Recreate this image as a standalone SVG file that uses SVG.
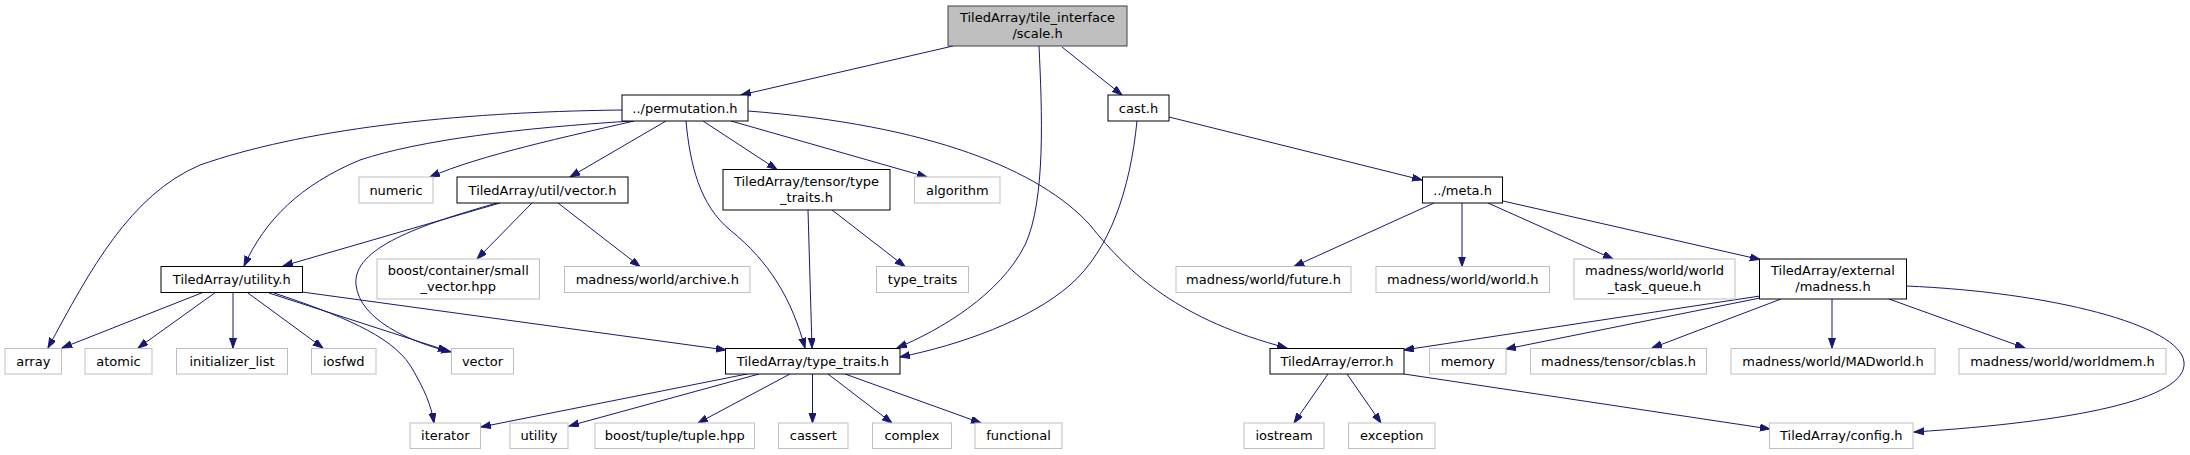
<svg xmlns="http://www.w3.org/2000/svg" width="2190" height="455" viewBox="0 0 2190 455">
<style>
text{font-family:"DejaVu Sans",sans-serif;font-size:13px;fill:#000;text-anchor:middle}
.n rect{fill:#fff;stroke:#000;stroke-width:1}
.g rect{fill:#fff;stroke:#bfbfbf;stroke-width:1}
.r rect{fill:#bfbfbf;stroke:#404040;stroke-width:1}
#edges path{fill:none;stroke:#191970;stroke-width:1;marker-end:url(#ah)}
</style>
<defs>
<marker id="ah" markerUnits="userSpaceOnUse" markerWidth="11" markerHeight="8" refX="10" refY="3.5" orient="auto">
<path d="M0,0 L10,3.5 L0,7 z" fill="#191970" stroke="#191970" stroke-width="1"/>
</marker>
</defs>
<rect width="2190" height="455" fill="#fff"/>
<g id="edges">
<path d="M953,46 L741,95"/>
<path d="M1062,47 L1122,95"/>
<path d="M1039,46 C1042,110 1046,200 1025,245 C1000,295 940,330 897,348"/>
<path d="M1169,117 L1422,180"/>
<path d="M1137,121 C1130,190 1110,250 1070,285 C1030,320 960,345 900,357"/>
<path d="M622,110 C450,112 300,130 200,165 C130,195 90,270 48,348"/>
<path d="M632,121 C520,128 420,140 360,160 C300,185 265,220 244,266"/>
<path d="M634,121 C570,136 480,155 430,177"/>
<path d="M666,121 L570,177"/>
<path d="M703,121 L777,169.5"/>
<path d="M731,121 L927,177"/>
<path d="M686,121 C690,165 700,205 730,230 C770,262 792,300 805,348"/>
<path d="M748,111 C930,125 1040,170 1090,225 C1130,275 1180,320 1287,348"/>
<path d="M500,203 L283,266"/>
<path d="M497,203 C420,225 352,248 356,285 C360,320 410,342 451,352"/>
<path d="M532,203 L477,259"/>
<path d="M558,203 L640,266.5"/>
<path d="M808,210 L812,348"/>
<path d="M832,210 L905,266.5"/>
<path d="M1434,203 L1294,266.5"/>
<path d="M1462,203 L1462,266.5"/>
<path d="M1488,203 L1613,259"/>
<path d="M1503,201 L1760,259.5"/>
<path d="M204,292 L62,348"/>
<path d="M216,292 L138,348"/>
<path d="M233,293 L233,348"/>
<path d="M248,293 L323,348"/>
<path d="M269,293 L448,351"/>
<path d="M274,293 C340,315 390,335 410,365 C425,390 431,405 434,423"/>
<path d="M302,292 L726,350"/>
<path d="M747,374 L481,427"/>
<path d="M759,374 L569,426"/>
<path d="M790,374 L698,423"/>
<path d="M812.5,374 L812.5,423"/>
<path d="M828,374 L892,423"/>
<path d="M845,374 L981,423"/>
<path d="M1328,374 L1294,423"/>
<path d="M1347,374 L1381,423"/>
<path d="M1404,374 L1770,429"/>
<path d="M1760,296 L1404,350"/>
<path d="M1760,298 L1506,349"/>
<path d="M1781,299 L1652,348"/>
<path d="M1832,299 L1832,348"/>
<path d="M1889,299 L2025,348"/>
<path d="M1906,286 C2050,292 2180,325 2184,362 C2188,400 2070,422 1914,432"/>
</g>
<g id="n_scale" class="r"><rect x="948" y="6" width="179" height="40"/><text x="1037.5" y="21.5">TiledArray/tile_interface</text><text x="1037.5" y="37.5">/scale.h</text></g>
<g id="n_perm" class="n"><rect x="622" y="95" width="126" height="26"/><text x="685" y="112.5">../permutation.h</text></g>
<g id="n_cast" class="n"><rect x="1108" y="95" width="61" height="26"/><text x="1138.5" y="112.5">cast.h</text></g>
<g id="n_numeric" class="g"><rect x="359" y="177" width="74" height="26"/><text x="396" y="194.5">numeric</text></g>
<g id="n_uvector" class="n"><rect x="457" y="177" width="171" height="26"/><text x="542.5" y="194.5">TiledArray/util/vector.h</text></g>
<g id="n_ttraits" class="n"><rect x="723" y="169.5" width="167" height="40.5"/><text x="806.5" y="185.5">TiledArray/tensor/type</text><text x="806.5" y="201.5">_traits.h</text></g>
<g id="n_algorithm" class="g"><rect x="914.5" y="177" width="85.5" height="26"/><text x="957.3" y="194.5">algorithm</text></g>
<g id="n_meta" class="n"><rect x="1422.5" y="177" width="80" height="26"/><text x="1462.5" y="194.5">../meta.h</text></g>
<g id="n_utilityh" class="n"><rect x="161" y="266.5" width="141.5" height="26"/><text x="231.8" y="284">TiledArray/utility.h</text></g>
<g id="n_smallvec" class="g"><rect x="377" y="259" width="162.5" height="40"/><text x="458.3" y="275">boost/container/small</text><text x="458.3" y="291">_vector.hpp</text></g>
<g id="n_archive" class="g"><rect x="564.5" y="266.5" width="185.5" height="26"/><text x="657.3" y="284">madness/world/archive.h</text></g>
<g id="n_type_traits" class="g"><rect x="876.5" y="266.5" width="92" height="26"/><text x="922.5" y="284">type_traits</text></g>
<g id="n_future" class="g"><rect x="1176" y="266.5" width="175" height="26"/><text x="1263.5" y="284">madness/world/future.h</text></g>
<g id="n_world" class="g"><rect x="1376" y="266.5" width="173.5" height="26"/><text x="1462.8" y="284">madness/world/world.h</text></g>
<g id="n_taskq" class="g"><rect x="1574" y="259" width="161" height="40"/><text x="1654.5" y="275">madness/world/world</text><text x="1654.5" y="291">_task_queue.h</text></g>
<g id="n_extmad" class="n"><rect x="1759.5" y="259" width="147" height="40"/><text x="1833" y="275">TiledArray/external</text><text x="1833" y="291">/madness.h</text></g>
<g id="n_array" class="g"><rect x="5" y="348.5" width="56.5" height="25.5"/><text x="33.3" y="365.5">array</text></g>
<g id="n_atomic" class="g"><rect x="85" y="348.5" width="67" height="25.5"/><text x="118.5" y="365.5">atomic</text></g>
<g id="n_initlist" class="g"><rect x="176.5" y="348.5" width="111" height="25.5"/><text x="232" y="365.5">initializer_list</text></g>
<g id="n_iosfwd" class="g"><rect x="311.5" y="348.5" width="64.5" height="25.5"/><text x="343.8" y="365.5">iosfwd</text></g>
<g id="n_vector" class="g"><rect x="451.5" y="348.5" width="62" height="25.5"/><text x="482.5" y="365.5">vector</text></g>
<g id="n_tatypetraits" class="n"><rect x="725.5" y="348.5" width="174.5" height="25.5"/><text x="812.8" y="365.5">TiledArray/type_traits.h</text></g>
<g id="n_error" class="n"><rect x="1270" y="348.5" width="134" height="25.5"/><text x="1337" y="365.5">TiledArray/error.h</text></g>
<g id="n_memory" class="g"><rect x="1429.5" y="348.5" width="76.5" height="25.5"/><text x="1467.8" y="365.5">memory</text></g>
<g id="n_cblas" class="g"><rect x="1530.5" y="348.5" width="176" height="25.5"/><text x="1618.5" y="365.5">madness/tensor/cblas.h</text></g>
<g id="n_madworld" class="g"><rect x="1731" y="348.5" width="204" height="25.5"/><text x="1833" y="365.5">madness/world/MADworld.h</text></g>
<g id="n_worldmem" class="g"><rect x="1959" y="348.5" width="207" height="25.5"/><text x="2062.5" y="365.5">madness/world/worldmem.h</text></g>
<g id="n_iterator" class="g"><rect x="410" y="423" width="70.5" height="25.5"/><text x="445.3" y="440">iterator</text></g>
<g id="n_utility" class="g"><rect x="510" y="423" width="58" height="25.5"/><text x="539" y="440">utility</text></g>
<g id="n_tuple" class="g"><rect x="595" y="423" width="159.5" height="25.5"/><text x="674.8" y="440">boost/tuple/tuple.hpp</text></g>
<g id="n_cassert" class="g"><rect x="778.5" y="423" width="69.5" height="25.5"/><text x="813.3" y="440">cassert</text></g>
<g id="n_complex" class="g"><rect x="872.5" y="423" width="79" height="25.5"/><text x="912" y="440">complex</text></g>
<g id="n_functional" class="g"><rect x="975" y="423" width="87" height="25.5"/><text x="1018.5" y="440">functional</text></g>
<g id="n_iostream" class="g"><rect x="1244" y="423" width="80" height="25.5"/><text x="1284" y="440">iostream</text></g>
<g id="n_exception" class="g"><rect x="1348.5" y="423" width="86.5" height="25.5"/><text x="1391.8" y="440">exception</text></g>
<g id="n_config" class="g"><rect x="1769.5" y="423" width="143.5" height="25.5"/><text x="1841.3" y="440">TiledArray/config.h</text></g>
</svg>
